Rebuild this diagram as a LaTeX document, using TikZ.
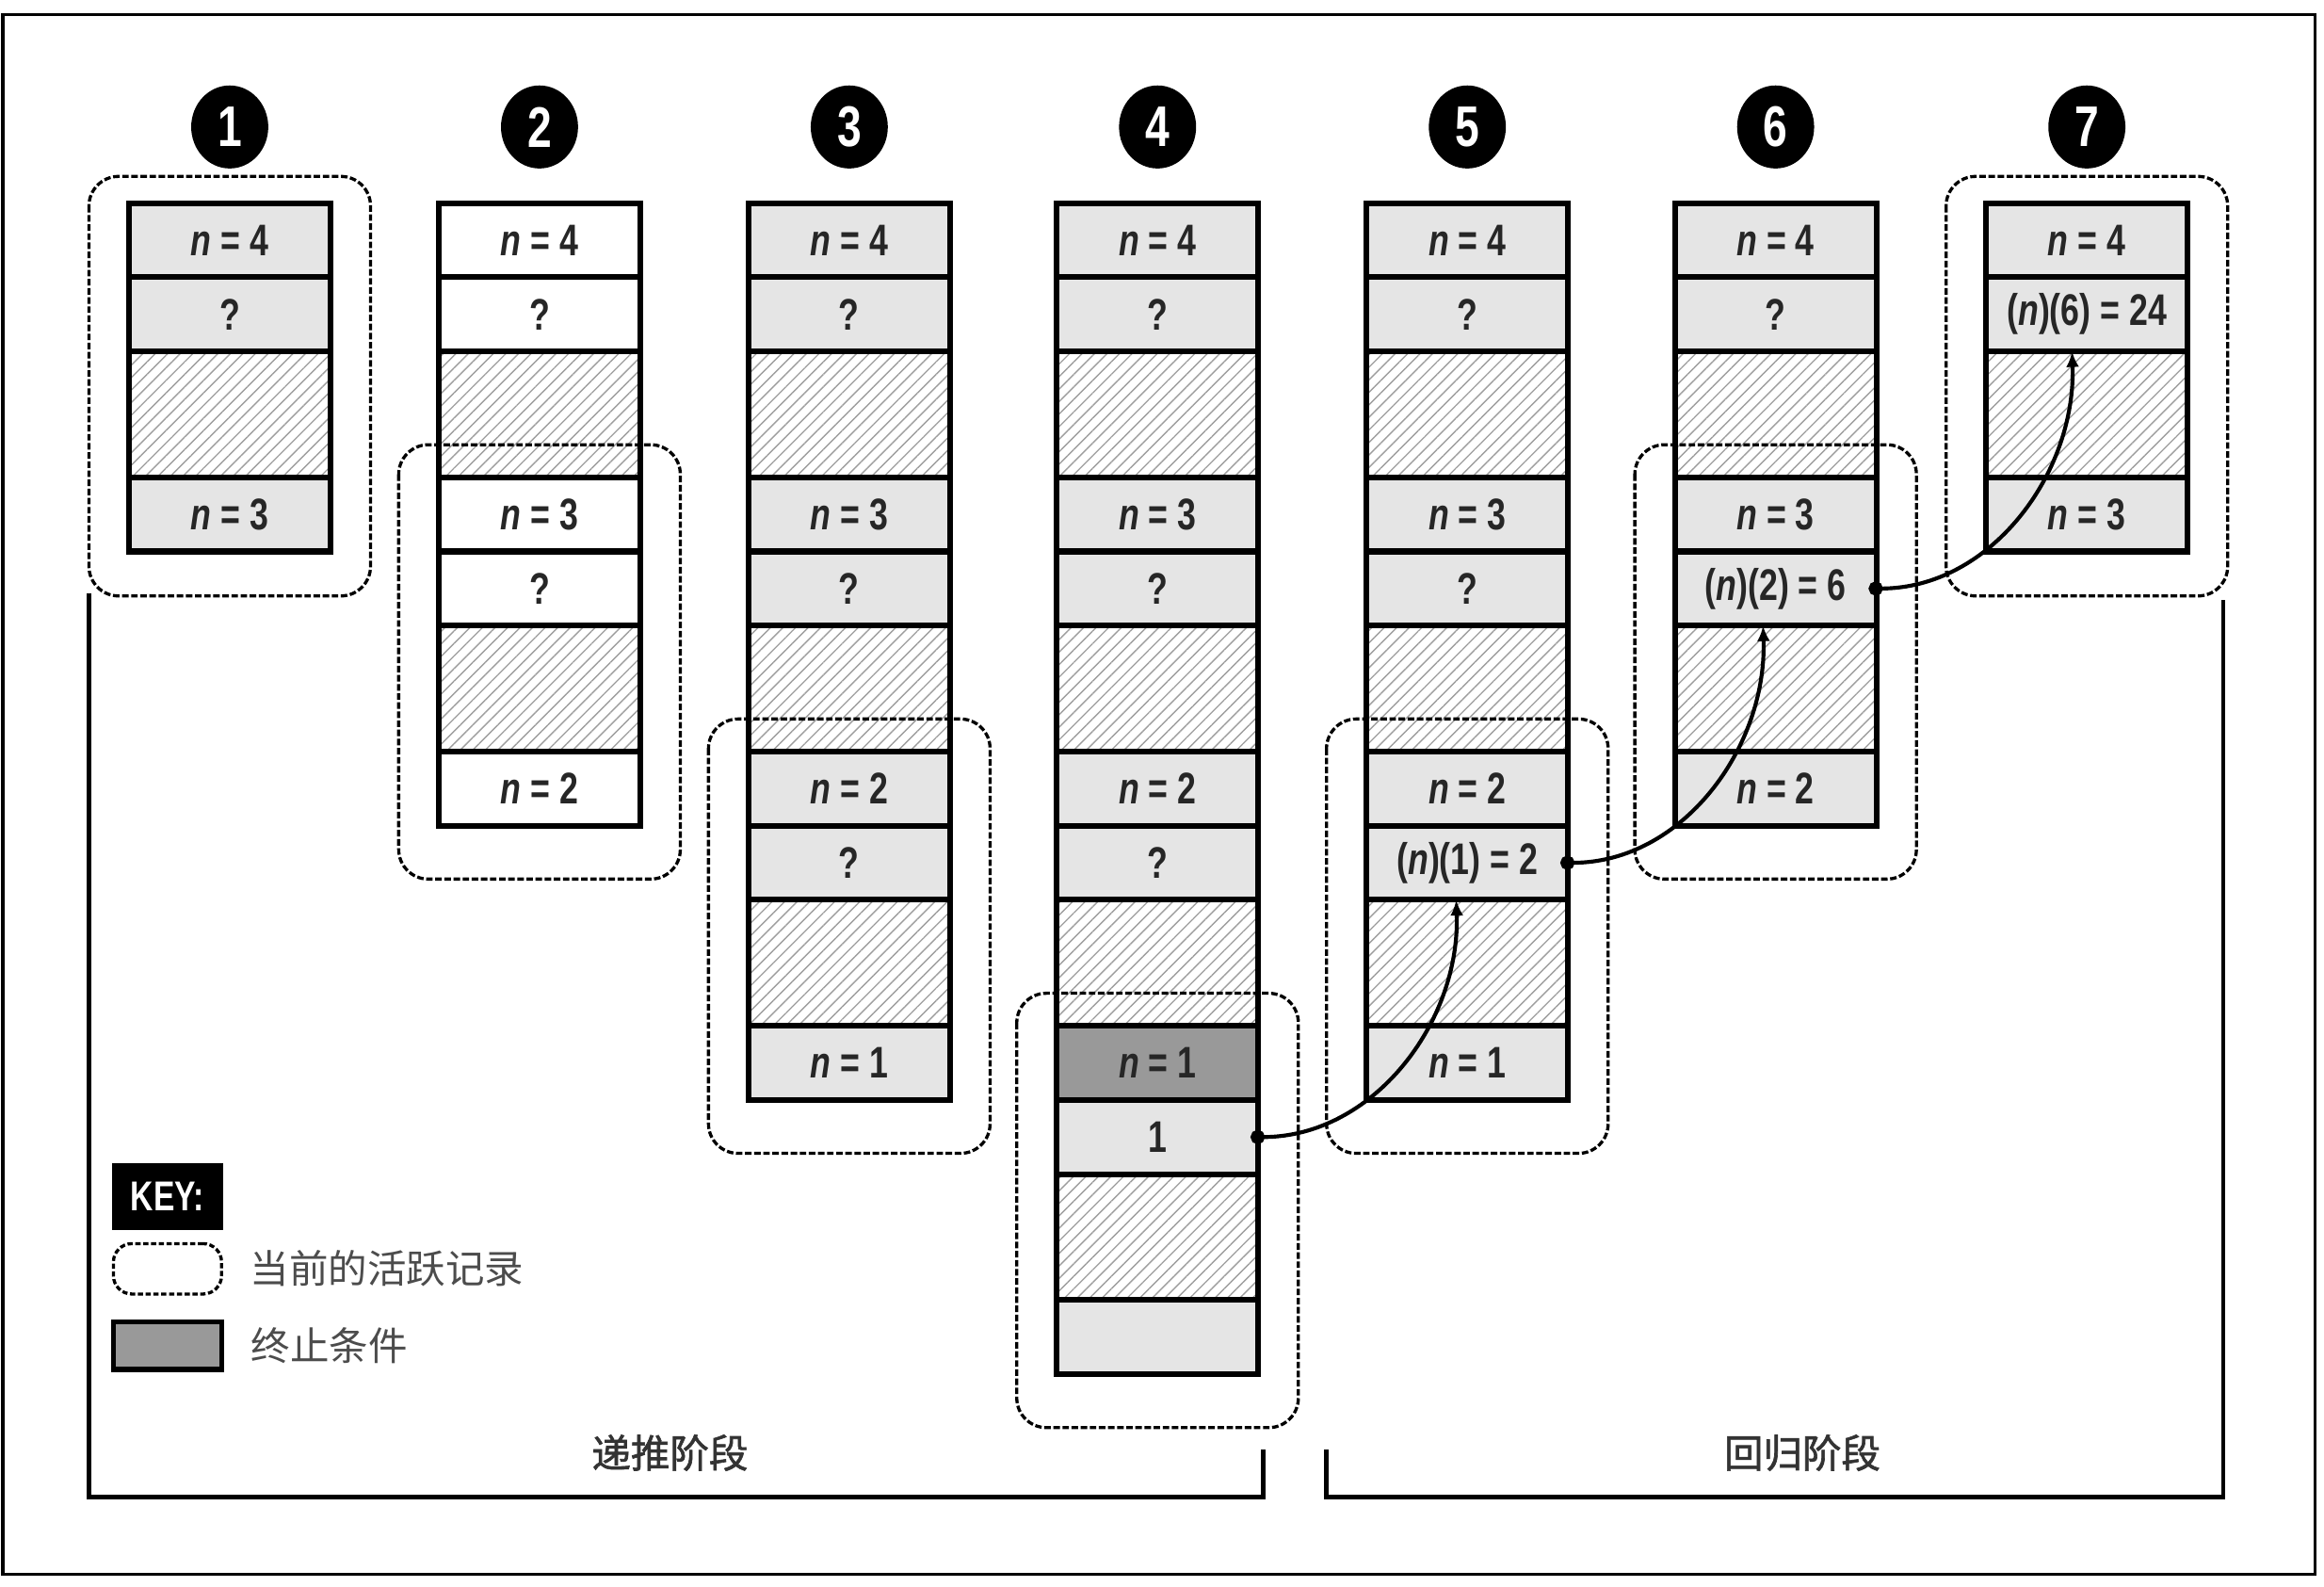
\documentclass[tikz,border=0pt]{standalone}
\usepackage{fontspec}
\setmainfont{Liberation Sans}[FakeStretch=0.76]
\newfontfamily\cjk{Noto Sans CJK SC}
\newfontfamily\cjkbold{Noto Sans CJK SC}[FakeBold=1.5]
\usetikzlibrary{
    arrows.meta,
    positioning,
    shapes.geometric,
    patterns.meta,
    backgrounds
}

\definecolor{cellgray}{gray}{0.9}
\definecolor{stopgray}{gray}{0.6}
\definecolor{shadowgray}{gray}{0.84}
\definecolor{inkgray}{gray}{0.15}

\begin{document}
\begin{tikzpicture}[
    x=0.2mm,
    y=-0.2mm,
    node distance=0pt,
    >=Latex,
    cell/.style={
        rectangle,
        draw,
        line width=2.2pt,
        minimum width=2.72cm,
        minimum height=1cm,
        inner sep=0pt,
        outer sep=0pt,
        text=inkgray,
        font=\bfseries\fontsize{17}{20}\selectfont
    },
    val/.style={cell, fill=cellgray},
    blank/.style={cell, fill=white},
    stop/.style={cell, fill=stopgray},
    hatch/.style={
        cell,
        minimum height=1.7cm,
        preaction={fill=white},
        pattern={Lines[angle=45,distance=3.4pt,line width=0.5pt]},
        pattern color=black!38
    },
    badge/.style={
        ellipse,
        fill=black,
        text=white,
        minimum width=1.04cm,
        minimum height=1.12cm,
        inner sep=0pt,
        font=\bfseries\fontsize{22}{24}\selectfont
    },
    active/.style={
        draw,
        line width=1.2pt,
        dash pattern=on 2.5pt off 1pt,
        rounded corners=0.4cm
    },
    flow/.style={
        line width=1.5pt,
        {Circle[length=5.5pt]}-{Latex[length=6pt,width=5pt]}
    },
    phase/.style={line width=1.8pt},
    label/.style={text=black!70, font=\cjk\fontsize{15}{18}\selectfont}
]

% frame
\draw[line width=1.2pt, fill=white] (2,10) rectangle (1562,1062);
\useasboundingbox (0,0) rectangle (1568,1070);

%--------------------------------------------------
% stack 1
\node[val, anchor=north] (s1_n4) at (155,137) {\textit{n} = 4};
\node[val, below=of s1_n4] (s1_q4) {?};
\node[hatch, below=of s1_q4] (s1_h4) {};
\node[val, below=of s1_h4] (s1_n3) {\textit{n} = 3};

% stack 2
\node[blank, anchor=north] (s2_n4) at (364,137) {\textit{n} = 4};
\node[blank, below=of s2_n4] (s2_q4) {?};
\node[hatch, below=of s2_q4] (s2_h4) {};
\node[blank, below=of s2_h4] (s2_n3) {\textit{n} = 3};
\node[blank, below=of s2_n3] (s2_q3) {?};
\node[hatch, below=of s2_q3] (s2_h3) {};
\node[blank, below=of s2_h3] (s2_n2) {\textit{n} = 2};

% stack 3
\node[val, anchor=north] (s3_n4) at (573,137) {\textit{n} = 4};
\node[val, below=of s3_n4] (s3_q4) {?};
\node[hatch, below=of s3_q4] (s3_h4) {};
\node[val, below=of s3_h4] (s3_n3) {\textit{n} = 3};
\node[val, below=of s3_n3] (s3_q3) {?};
\node[hatch, below=of s3_q3] (s3_h3) {};
\node[val, below=of s3_h3] (s3_n2) {\textit{n} = 2};
\node[val, below=of s3_n2] (s3_q2) {?};
\node[hatch, below=of s3_q2] (s3_h2) {};
\node[val, below=of s3_h2] (s3_n1) {\textit{n} = 1};

% stack 4
\node[val, anchor=north] (s4_n4) at (781,137) {\textit{n} = 4};
\node[val, below=of s4_n4] (s4_q4) {?};
\node[hatch, below=of s4_q4] (s4_h4) {};
\node[val, below=of s4_h4] (s4_n3) {\textit{n} = 3};
\node[val, below=of s4_n3] (s4_q3) {?};
\node[hatch, below=of s4_q3] (s4_h3) {};
\node[val, below=of s4_h3] (s4_n2) {\textit{n} = 2};
\node[val, below=of s4_n2] (s4_q2) {?};
\node[hatch, below=of s4_q2] (s4_h2) {};
\node[stop, below=of s4_h2] (s4_n1) {\textit{n} = 1};
\node[val, below=of s4_n1] (s4_r1) {1};
\node[hatch, below=of s4_r1] (s4_h1) {};
\node[val, below=of s4_h1] (s4_free) {};

% stack 5
\node[val, anchor=north] (s5_n4) at (990,137) {\textit{n} = 4};
\node[val, below=of s5_n4] (s5_q4) {?};
\node[hatch, below=of s5_q4] (s5_h4) {};
\node[val, below=of s5_h4] (s5_n3) {\textit{n} = 3};
\node[val, below=of s5_n3] (s5_q3) {?};
\node[hatch, below=of s5_q3] (s5_h3) {};
\node[val, below=of s5_h3] (s5_n2) {\textit{n} = 2};
\node[val, below=of s5_n2] (s5_r2) {(\textit{n})(1) = 2};
\node[hatch, below=of s5_r2] (s5_h2) {};
\node[val, below=of s5_h2] (s5_n1) {\textit{n} = 1};

% stack 6
\node[val, anchor=north] (s6_n4) at (1198,137) {\textit{n} = 4};
\node[val, below=of s6_n4] (s6_q4) {?};
\node[hatch, below=of s6_q4] (s6_h4) {};
\node[val, below=of s6_h4] (s6_n3) {\textit{n} = 3};
\node[val, below=of s6_n3] (s6_r3) {(\textit{n})(2) = 6};
\node[hatch, below=of s6_r3] (s6_h3) {};
\node[val, below=of s6_h3] (s6_n2) {\textit{n} = 2};

% stack 7
\node[val, anchor=north] (s7_n4) at (1408,137) {\textit{n} = 4};
\node[val, below=of s7_n4] (s7_r4) {(\textit{n})(6) = 24};
\node[hatch, below=of s7_r4] (s7_h4) {};
\node[val, below=of s7_h4] (s7_n3) {\textit{n} = 3};

% shadows
\begin{scope}[on background layer]
\fill[shadowgray] ([shift={(6,6)}]s1_n4.north west) rectangle ([shift={(6,6)}]s1_n3.south east);
\fill[shadowgray] ([shift={(6,6)}]s2_n4.north west) rectangle ([shift={(6,6)}]s2_n2.south east);
\fill[shadowgray] ([shift={(6,6)}]s3_n4.north west) rectangle ([shift={(6,6)}]s3_n1.south east);
\fill[shadowgray] ([shift={(6,6)}]s4_n4.north west) rectangle ([shift={(6,6)}]s4_free.south east);
\fill[shadowgray] ([shift={(6,6)}]s5_n4.north west) rectangle ([shift={(6,6)}]s5_n1.south east);
\fill[shadowgray] ([shift={(6,6)}]s6_n4.north west) rectangle ([shift={(6,6)}]s6_n2.south east);
\fill[shadowgray] ([shift={(6,6)}]s7_n4.north west) rectangle ([shift={(6,6)}]s7_n3.south east);
\end{scope}

% step numbers
\node[badge, above=0.46cm of s1_n4] (b1) {1};
\node[badge, above=0.46cm of s2_n4] (b2) {2};
\node[badge, above=0.46cm of s3_n4] (b3) {3};
\node[badge, above=0.46cm of s4_n4] (b4) {4};
\node[badge, above=0.46cm of s5_n4] (b5) {5};
\node[badge, above=0.46cm of s6_n4] (b6) {6};
\node[badge, above=0.46cm of s7_n4] (b7) {7};

% active records
\draw[active] ([shift={(-27,-18)}]s1_n4.north west) rectangle ([shift={(27,30)}]s1_n3.south east);
\draw[active] ([shift={(-27,-22)}]s2_n3.north west) rectangle ([shift={(27,36)}]s2_n2.south east);
\draw[active] ([shift={(-27,-22)}]s3_n2.north west) rectangle ([shift={(27,36)}]s3_n1.south east);
\draw[active] ([shift={(-27,-22)}]s4_n1.north west) rectangle ([shift={(27,36)}]s4_free.south east);
\draw[active] ([shift={(-27,-22)}]s5_n2.north west) rectangle ([shift={(27,36)}]s5_n1.south east);
\draw[active] ([shift={(-27,-22)}]s6_n3.north west) rectangle ([shift={(27,36)}]s6_n2.south east);
\draw[active] ([shift={(-27,-18)}]s7_n4.north west) rectangle ([shift={(27,30)}]s7_n3.south east);

%--------------------------------------------------
\draw[flow] ([xshift=-3pt]s4_r1.east) to[out=0, in=-88] ([xshift=-0.15cm]s5_r2.south);
\draw[flow] ([xshift=-3pt]s5_r2.east) to[out=0, in=-88] ([xshift=-0.17cm]s6_r3.south);
\draw[flow] ([xshift=-3pt]s6_r3.east) to[out=0, in=-88] ([xshift=-0.2cm]s7_r4.south);

% phases
\draw[phase] (60,400) -- (60,1010) -- (852,1010) -- (852,978);
\draw[phase] (895,978) -- (895,1010) -- (1500,1010) -- (1500,405);
\node[font=\cjkbold\fontsize{15}{18}\selectfont, text=black!80] (descend) at (452,980) {递推阶段};
\node[font=\cjkbold\fontsize{15}{18}\selectfont, text=black!80] (ascend) at (1216,980) {回归阶段};

% key
\node[fill=black, text=white, minimum width=1.5cm, minimum height=0.9cm, inner sep=0pt,
      font=\bfseries\fontsize{16}{18}\selectfont] (key) at (113,807) {KEY:};
\node[draw, line width=1.2pt, dash pattern=on 2pt off 1pt, rounded corners=0.25cm,
      minimum width=1.46cm, minimum height=0.68cm, below=0.16cm of key] (key_active) {};
\node[draw, line width=2pt, fill=stopgray, minimum width=1.46cm, minimum height=0.64cm,
      below=0.32cm of key_active] (key_stop) {};
\node[label, right=0.24cm of key_active] (key_active_txt) {当前的活跃记录};
\node[label, right=0.24cm of key_stop] (key_stop_txt) {终止条件};

\end{tikzpicture}
\end{document}
